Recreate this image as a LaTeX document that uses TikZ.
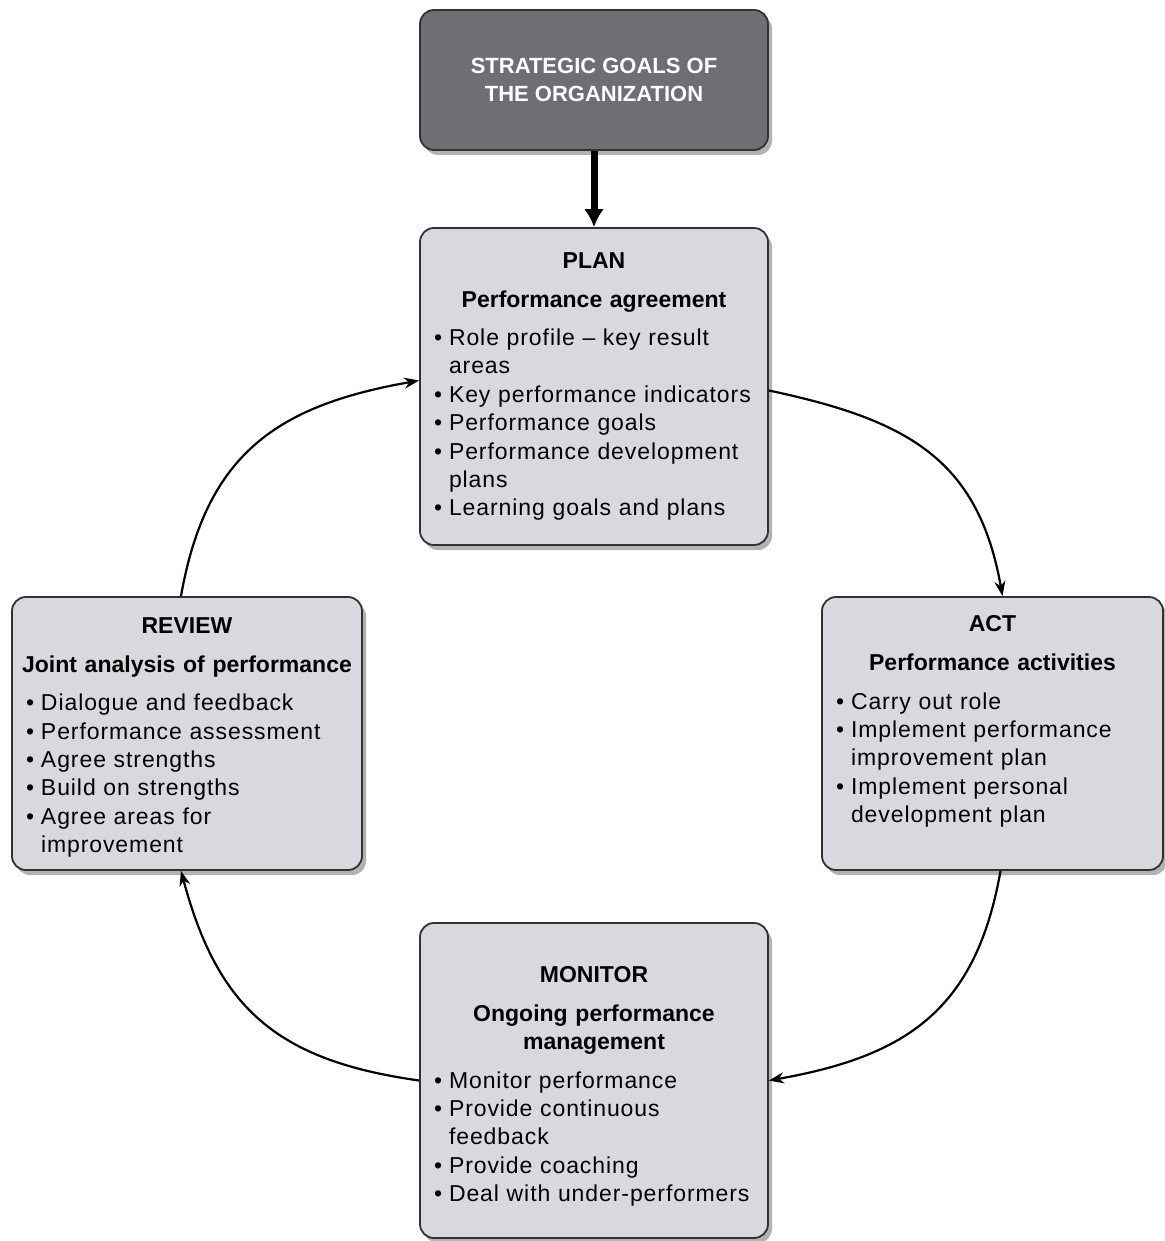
\documentclass[tikz,border=0pt]{standalone}
\usepackage{fontspec}
\setmainfont{Liberation Sans}[LetterSpace=4, BoldFeatures={LetterSpace=0}]
\usetikzlibrary{arrows.meta, shadows, positioning}

\definecolor{boxgray}{RGB}{215,217,222}
\definecolor{topgray}{RGB}{110,111,116}
\definecolor{edgegray}{RGB}{50,50,54}

% heading and subheading of a stage box
\newcommand{\stagehead}[2]{{\centering\bfseries\mbox{#1}\par}\vspace{10.5pt}{\centering\bfseries #2\par}\vspace{10pt}\raggedright\leftskip=10pt}
% one bullet point
\newcommand{\itm}[1]{\par\hangindent=15pt\hangafter=1\noindent\makebox[15pt][l]{\textbullet}#1}

\begin{document}
\begin{tikzpicture}[x=1pt, y=1pt, >=Stealth, semithick]
    \tikzset{
        stagebox/.style={draw=edgegray, line width=1.8pt, fill=boxgray, rounded corners=14pt,
            inner xsep=4pt, inner ysep=0pt, font=\fontsize{23}{28.4}\selectfont,
            drop shadow={shadow xshift=4pt, shadow yshift=-5pt, fill=black, opacity=0.3}},
        topbox/.style={stagebox, fill=topgray, text=white, align=center,
            font=\fontsize{22}{28}\selectfont\bfseries},
        flow/.style={line width=2.2pt, -{Stealth[length=15pt, width=11pt]}, looseness=1.15}
    };
    \useasboundingbox (0,0) rectangle (1164,-1241);

    \node[topbox, minimum width=348pt, minimum height=140pt] (goals) at (594,-80)
        {STRATEGIC GOALS OF\\THE ORGANIZATION};

    \node[stagebox, minimum width=348pt, minimum height=317pt, text width=340pt] (plan) at (594,-386.5) {%
        \stagehead{PLAN}{Performance agreement}%
        \itm{Role profile -- key result\newline areas}%
        \itm{Key performance indicators}%
        \itm{Performance goals}%
        \itm{Performance development\newline plans}%
        \itm{Learning goals and plans}\par};

    \node[stagebox, minimum width=341pt, minimum height=273pt, text width=333pt] (act) at (992.5,-733.5) {%
        \stagehead{ACT}{Performance activities}%
        \itm{Carry out role}%
        \itm{Implement performance\newline improvement plan}%
        \itm{Implement personal\newline development plan}%
        \par\mbox{}\par};

    \node[stagebox, minimum width=350pt, minimum height=273pt, text width=342pt] (review) at (187,-733.5) {%
        \stagehead{\rule{0pt}{24pt}REVIEW}{Joint analysis of performance}%
        \itm{Dialogue and feedback}%
        \itm{Performance assessment}%
        \itm{Agree strengths}%
        \itm{Build on strengths}%
        \itm{Agree areas for\newline improvement}\par};

    \node[stagebox, minimum width=348pt, minimum height=315pt, text width=340pt] (monitor) at (594,-1080.5) {%
        \stagehead{\rule{0pt}{28pt}MONITOR}{Ongoing performance\\management}%
        \itm{Monitor performance}%
        \itm{Provide continuous\newline feedback}%
        \itm{Provide coaching}%
        \itm{Deal with under-performers}\par};

    % strategy feeds the plan
    \draw[line width=7pt, -{Latex[length=18pt, width=20pt]}] (goals) -- (plan);

    % the cycle
    \draw[flow] ([yshift=-4pt]plan.east) to[out=-12, in=100] ([xshift=10pt]act.north);
    \draw[flow] ([xshift=8pt]act.south) to[out=-100, in=10] (monitor.east);
    \draw[flow] (monitor.west) to[out=172, in=-75] ([xshift=-6pt]review.south);
    \draw[flow] ([xshift=-6pt]review.north) to[out=80, in=190] ([yshift=6pt]plan.west);
\end{tikzpicture}
\end{document}
